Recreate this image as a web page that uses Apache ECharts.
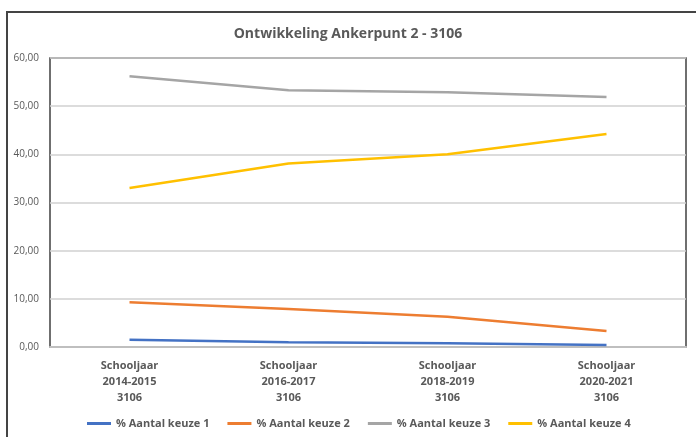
<!DOCTYPE html>
<html>
<head>
<meta charset="utf-8">
<script src="https://cdn.jsdelivr.net/npm/echarts@6/dist/echarts.min.js"></script>
<style>
  html, body { margin: 0; padding: 0; background: #fff; overflow: hidden; }
  #frame { position: absolute; left: 6px; top: 11px; width: 720px; height: 460px; border: 2px solid #444; box-sizing: border-box; }
  #chart { position: absolute; left: 0; top: 0; width: 696px; height: 437px; }
</style>
</head>
<body>
<div id="frame"></div>
<div id="chart"></div>
<script>
const categories = [
  'Schooljaar\n2014-2015\n3106',
  'Schooljaar\n2016-2017\n3106',
  'Schooljaar\n2018-2019\n3106',
  'Schooljaar\n2020-2021\n3106'
]
const keuze1 = [1.5, 1.0, 0.8, 0.4]
const keuze2 = [9.3, 7.9, 6.3, 3.3]
const keuze3 = [56.2, 53.3, 52.9, 51.9]
const keuze4 = [33.0, 38.1, 40.0, 44.2]
const seriesNames = ['% Aantal keuze 1', '% Aantal keuze 2', '% Aantal keuze 3', '% Aantal keuze 4']
const colors = ['#4472C4', '#ED7D31', '#A5A5A5', '#FFC000']

const chart = echarts.init(document.getElementById('chart'))
const mkLine = (name, data, i) => ({
  name,
  type: 'line',
  data,
  symbol: 'none',
  smooth: false,
  lineStyle: { width: 2.5, color: colors[i] },
  itemStyle: { color: colors[i] },
  z: 3
})

chart.setOption({
  animation: false,
  textStyle: { fontFamily: 'Open Sans' },
  title: {
    text: 'Ontwikkeling Ankerpunt 2 - 3106',
    left: 'center',
    top: 22,
    textStyle: { fontSize: 14, fontWeight: 'bold', color: '#595959', fontFamily: 'Open Sans' }
  },
  grid: {
    left: 50,
    right: 10,
    top: 58,
    bottom: 90,
    show: true,
    borderColor: '#404040',
    borderWidth: 1.5
  },
  legend: {
    bottom: 3,
    left: 82,
    itemWidth: 24,
    itemHeight: 3,
    itemGap: 18,
    icon: 'rect',
    textStyle: { fontSize: 11, fontWeight: 'bold', color: '#595959', fontFamily: 'Open Sans' },
    data: seriesNames
  },
  xAxis: {
    type: 'category',
    data: categories,
    boundaryGap: true,
    axisTick: { show: false },
    axisLine: { lineStyle: { color: '#bfbfbf', width: 2 } },
    axisLabel: {
      margin: 11,
      lineHeight: 16,
      fontSize: 11,
      fontWeight: 'bold',
      color: '#595959',
      fontFamily: 'Open Sans'
    }
  },
  yAxis: {
    type: 'value',
    min: 0,
    max: 60,
    interval: 10,
    axisLine: { show: false },
    axisTick: { show: false },
    splitLine: { lineStyle: { color: '#d0d0d0', width: 1.5 } },
    axisLabel: {
      margin: 11,
      fontSize: 10,
      color: '#595959',
      fontFamily: 'Open Sans',
      formatter: v => v.toFixed(2).replace('.', ',')
    }
  },
  series: [
    mkLine(seriesNames[0], keuze1, 0),
    mkLine(seriesNames[1], keuze2, 1),
    mkLine(seriesNames[2], keuze3, 2),
    mkLine(seriesNames[3], keuze4, 3)
  ]
})
</script>
</body>
</html>
